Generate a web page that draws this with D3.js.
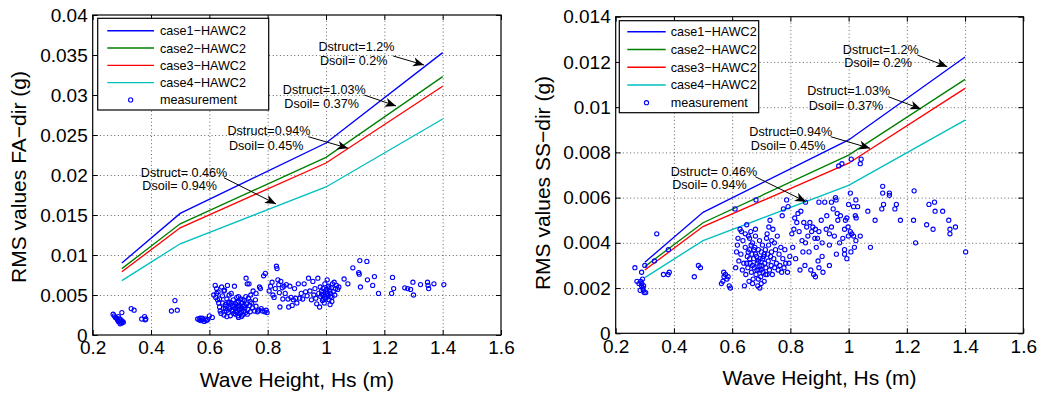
<!DOCTYPE html>
<html>
<head>
<meta charset="utf-8">
<script src="https://cdn.jsdelivr.net/npm/d3@7"></script>
<style>
  html, body { margin: 0; padding: 0; background: #fff; }
  svg { display: block; font-family: "Liberation Sans", Arial, Helvetica, sans-serif; }
</style>
</head>
<body>
<svg id="chart" width="1038" height="396"></svg>
<script>
// Simulated RMS acceleration per wave height, four damping cases
const hs = [0.3, 0.5, 1.0, 1.4];

const faCase1 = [0.0090, 0.0152, 0.0240, 0.0353];
const faCase2 = [0.0083, 0.0139, 0.0222, 0.0323];
const faCase3 = [0.0079, 0.0134, 0.0215, 0.0311];
const faCase4 = [0.0068, 0.0114, 0.0185, 0.0270];

const ssCase1 = [0.00314, 0.00535, 0.00855, 0.01222];
const ssCase2 = [0.00295, 0.00489, 0.00788, 0.01123];
const ssCase3 = [0.00280, 0.00472, 0.00752, 0.01083];
const ssCase4 = [0.00246, 0.00410, 0.00654, 0.00943];

const caseNames = ["case1\u2212HAWC2", "case2\u2212HAWC2", "case3\u2212HAWC2", "case4\u2212HAWC2"];
const caseColors = ["#0000ff", "#008000", "#ff0000", "#00bfbf"];
const measurementName = "measurement";

// Measured RMS values, fore-aft direction [Hs, RMS]
const faMeasured = [
  [0.270,0.0026],[0.274,0.0024],[0.278,0.0022],[0.282,0.0021],[0.285,0.0019],[0.288,0.0023],[0.290,0.0018],[0.292,0.0020],
  [0.295,0.0016],[0.297,0.0019],[0.300,0.0015],[0.302,0.0017],[0.305,0.0016],[0.300,0.0028],[0.288,0.0017],[0.294,0.0014],
  [0.332,0.0033],[0.342,0.0031],[0.368,0.0020],[0.378,0.0023],[0.380,0.0019],[0.382,0.0020],
  [0.470,0.0030],[0.482,0.0043],[0.490,0.0031],
  [0.560,0.0020],[0.565,0.0019],[0.570,0.0018],[0.575,0.0021],[0.578,0.0019],[0.582,0.0017],[0.586,0.0020],[0.590,0.0018],
  [0.594,0.0019],[0.600,0.0024],[0.610,0.0022],[0.568,0.0021],
  [0.615,0.0050],[0.620,0.0062],[0.622,0.0047],[0.625,0.0058],[0.628,0.0044],[0.630,0.0054],[0.632,0.0040],[0.635,0.0035],
  [0.637,0.0030],[0.640,0.0027],[0.642,0.0060],[0.645,0.0049],[0.648,0.0033],[0.650,0.0025],[0.652,0.0056],[0.655,0.0038],
  [0.658,0.0030],[0.660,0.0045],[0.662,0.0062],[0.665,0.0028],[0.667,0.0035],[0.670,0.0041],[0.672,0.0024],[0.675,0.0052],
  [0.677,0.0031],[0.680,0.0037],[0.682,0.0044],[0.684,0.0027],[0.686,0.0061],[0.688,0.0033],[0.690,0.0039],[0.692,0.0029],
  [0.694,0.0047],[0.696,0.0035],[0.698,0.0024],[0.700,0.0042],[0.702,0.0031],[0.704,0.0037],[0.706,0.0027],[0.708,0.0045],
  [0.710,0.0033],[0.712,0.0040],[0.714,0.0025],[0.716,0.0036],[0.718,0.0030],[0.720,0.0043],[0.722,0.0034],[0.724,0.0028],
  [0.726,0.0071],[0.728,0.0039],[0.730,0.0064],[0.732,0.0032],[0.734,0.0046],[0.736,0.0064],[0.738,0.0037],[0.740,0.0029],
  [0.742,0.0050],[0.745,0.0040],[0.748,0.0034],[0.750,0.0055],[0.755,0.0030],[0.758,0.0044],[0.760,0.0036],[0.765,0.0029],
  [0.770,0.0031],[0.772,0.0060],[0.775,0.0058],[0.778,0.0033],[0.782,0.0030],[0.786,0.0074],[0.790,0.0029],[0.792,0.0077],
  [0.795,0.0031],[0.798,0.0028],
  [0.660,0.0036],[0.670,0.0033],[0.680,0.0030],[0.690,0.0034],[0.700,0.0036],[0.710,0.0029],[0.720,0.0037],[0.675,0.0040],
  [0.695,0.0041],[0.705,0.0032],[0.715,0.0044],[0.685,0.0036],[0.665,0.0041],[0.655,0.0033],[0.645,0.0040],[0.635,0.0045],
  [0.625,0.0052],[0.650,0.0055],[0.668,0.0050],[0.700,0.0048],[0.725,0.0048],[0.740,0.0042],[0.760,0.0052],[0.690,0.0026],
  [0.710,0.0023],[0.730,0.0026],[0.660,0.0023],[0.700,0.0022],
  [0.805,0.0055],[0.810,0.0061],[0.815,0.0066],[0.818,0.0050],[0.822,0.0047],[0.826,0.0058],[0.830,0.0086],[0.832,0.0083],
  [0.835,0.0069],[0.838,0.0063],[0.840,0.0053],[0.842,0.0035],[0.845,0.0067],[0.850,0.0059],[0.852,0.0045],[0.856,0.0061],
  [0.860,0.0052],[0.864,0.0063],[0.870,0.0045],[0.872,0.0035],[0.876,0.0061],[0.880,0.0047],[0.884,0.0037],[0.888,0.0044],
  [0.892,0.0058],[0.896,0.0046],[0.900,0.0040],[0.905,0.0064],[0.910,0.0046],[0.915,0.0052],[0.920,0.0045],[0.925,0.0064],
  [0.930,0.0054],[0.935,0.0049],[0.940,0.0071],[0.945,0.0055],[0.950,0.0044],[0.955,0.0067],[0.958,0.0050],[0.962,0.0058],
  [0.965,0.0046],[0.968,0.0039],[0.972,0.0071],[0.975,0.0052],[0.978,0.0035],
  [0.980,0.0060],[0.982,0.0048],[0.985,0.0055],[0.988,0.0043],[0.990,0.0058],[0.992,0.0050],[0.994,0.0040],[0.996,0.0064],
  [0.998,0.0053],[1.000,0.0046],[1.002,0.0057],[1.004,0.0069],[1.006,0.0049],[1.008,0.0061],[1.010,0.0044],[1.012,0.0055],
  [1.014,0.0038],[1.016,0.0052],[1.018,0.0059],[1.020,0.0047],[1.022,0.0064],[1.025,0.0054],[1.028,0.0066],[1.030,0.0050],
  [1.033,0.0058],[1.036,0.0062],[1.040,0.0057],[1.044,0.0060],[0.995,0.0047],[1.005,0.0052],[1.015,0.0048],[0.985,0.0051],
  [1.000,0.0055],[1.010,0.0059],[0.990,0.0045],[1.020,0.0042],
  [1.062,0.0070],[1.075,0.0064],[1.092,0.0084],[1.112,0.0078],[1.114,0.0076],[1.116,0.0093],[1.118,0.0060],[1.140,0.0092],
  [1.142,0.0069],[1.160,0.0062],[1.166,0.0073],[1.180,0.0052],[1.225,0.0052],[1.228,0.0072],[1.232,0.0058],[1.270,0.0059],
  [1.280,0.0058],[1.290,0.0057],[1.298,0.0066],[1.300,0.0050],[1.324,0.0063],[1.348,0.0066],[1.350,0.0062],[1.352,0.0058],
  [1.370,0.0064],[1.404,0.0063]
];

// Measured RMS values, side-side direction [Hs, RMS]
const ssMeasured = [
  [0.266,0.0029],[0.273,0.0023],[0.280,0.0022],[0.286,0.0023],[0.289,0.0021],[0.293,0.0020],[0.295,0.0019],[0.298,0.0018],
  [0.303,0.0018],[0.290,0.0022],[0.289,0.0027],[0.300,0.0030],[0.284,0.0019],[0.292,0.0024],[0.296,0.0021],
  [0.333,0.0032],[0.341,0.0044],[0.381,0.0037],[0.364,0.0026],[0.380,0.0026],[0.384,0.0027],
  [0.470,0.0025],[0.484,0.0030],[0.491,0.0029],
  [0.563,0.0022],[0.568,0.0023],[0.572,0.0025],[0.577,0.0026],[0.582,0.0024],[0.571,0.0027],[0.590,0.0021],[0.594,0.0020],
  [0.586,0.0025],
  [0.610,0.0055],[0.612,0.0029],[0.682,0.0059],
  [0.615,0.0036],[0.618,0.0039],[0.620,0.0042],[0.623,0.0032],[0.627,0.0046],[0.630,0.0035],[0.632,0.0045],[0.635,0.0028],
  [0.637,0.0041],[0.640,0.0031],[0.642,0.0021],[0.645,0.0038],[0.647,0.0026],[0.650,0.0048],[0.652,0.0034],[0.654,0.0029],
  [0.656,0.0043],[0.658,0.0023],[0.660,0.0037],[0.662,0.0031],[0.664,0.0045],[0.666,0.0027],[0.668,0.0035],[0.670,0.0040],
  [0.672,0.0024],[0.674,0.0033],[0.676,0.0029],[0.678,0.0038],[0.680,0.0043],[0.682,0.0026],[0.684,0.0034],[0.686,0.0031],
  [0.688,0.0021],[0.690,0.0037],[0.692,0.0028],[0.694,0.0041],[0.696,0.0033],[0.698,0.0025],[0.700,0.0036],[0.702,0.0030],
  [0.704,0.0039],[0.706,0.0027],[0.708,0.0034],[0.710,0.0023],[0.712,0.0031],[0.714,0.0037],[0.716,0.0029],[0.718,0.0042],
  [0.720,0.0026],[0.722,0.0035],[0.724,0.0032],[0.726,0.0047],[0.728,0.0028],[0.730,0.0050],[0.732,0.0034],[0.734,0.0030],
  [0.736,0.0041],[0.738,0.0026],[0.740,0.0046],[0.743,0.0033],[0.746,0.0029],[0.749,0.0037],[0.752,0.0031],[0.755,0.0043],
  [0.758,0.0028],[0.761,0.0035],[0.764,0.0030],[0.767,0.0038],[0.770,0.0027],[0.772,0.0052],[0.774,0.0033],[0.776,0.0055],
  [0.778,0.0029],[0.781,0.0037],[0.784,0.0031],[0.787,0.0059],[0.790,0.0027],[0.792,0.0056],[0.795,0.0031],[0.798,0.0034],
  [0.660,0.0033],[0.670,0.0030],[0.680,0.0035],[0.690,0.0032],[0.700,0.0028],[0.710,0.0035],[0.675,0.0037],[0.695,0.0030],
  [0.685,0.0028],[0.665,0.0039],[0.705,0.0033],[0.655,0.0036],[0.645,0.0044],[0.715,0.0026],[0.725,0.0039],[0.690,0.0024],
  [0.700,0.0022],[0.680,0.0046],[0.660,0.0042],[0.720,0.0044],[0.650,0.0031],[0.735,0.0036],[0.745,0.0040],[0.670,0.0022],
  [0.695,0.0020],
  [0.805,0.0044],[0.808,0.0038],[0.812,0.0046],[0.815,0.0051],[0.818,0.0033],[0.822,0.0049],[0.826,0.0053],[0.830,0.0045],
  [0.833,0.0028],[0.836,0.0054],[0.840,0.0041],[0.843,0.0036],[0.846,0.0049],[0.850,0.0030],[0.852,0.0058],[0.852,0.0040],
  [0.856,0.0047],[0.860,0.0043],[0.864,0.0036],[0.867,0.0049],[0.870,0.0028],[0.873,0.0045],[0.877,0.0047],[0.880,0.0026],
  [0.884,0.0042],[0.886,0.0046],[0.886,0.0025],[0.889,0.0038],[0.893,0.0042],[0.895,0.0032],[0.898,0.0058],[0.898,0.0045],
  [0.898,0.0029],[0.906,0.0050],[0.909,0.0040],[0.909,0.0034],[0.912,0.0027],[0.918,0.0058],[0.923,0.0046],[0.925,0.0052],
  [0.934,0.0044],[0.934,0.0039],[0.934,0.0030],[0.941,0.0058],[0.941,0.0047],[0.947,0.0055],[0.951,0.0043],[0.955,0.0060],
  [0.957,0.0059],[0.958,0.0035],
  [0.961,0.0053],[0.963,0.0050],[0.966,0.0074],[0.969,0.0040],[0.972,0.0052],[0.977,0.0075],[0.980,0.0042],[0.986,0.0046],
  [0.986,0.0037],[0.986,0.0035],[0.989,0.0050],[0.994,0.0051],[0.994,0.0033],[0.998,0.0047],[0.999,0.0043],[1.000,0.0057],
  [1.006,0.0062],[1.006,0.0045],[1.008,0.0036],[1.009,0.0077],[1.011,0.0044],[1.017,0.0056],[1.017,0.0043],[1.020,0.0038],
  [1.023,0.0052],[1.025,0.0059],[1.025,0.0041],[1.026,0.0051],[1.031,0.0056],[1.040,0.0043],[1.040,0.0075],[1.043,0.0077],
  [1.066,0.0054],[1.075,0.0038],[1.091,0.0050],[1.114,0.0055],[1.117,0.0062],[1.117,0.0065],[1.120,0.0057],[1.140,0.0062],
  [1.140,0.0061],[1.159,0.0055],[1.164,0.0057],[1.178,0.0050],[1.223,0.0050],[1.225,0.0063],[1.230,0.0040],[1.268,0.0048],
  [1.276,0.0057],[1.290,0.0046],[1.295,0.0058],[1.297,0.0054],[1.323,0.0054],[1.344,0.0050],[1.348,0.0046],[1.348,0.0044],
  [1.367,0.0047],[1.402,0.0036]
];

// Axis ticks
const xTicks = [0.2, 0.4, 0.6, 0.8, 1.0, 1.2, 1.4, 1.6];
const faTicks = [0, 0.005, 0.01, 0.015, 0.02, 0.025, 0.03, 0.035, 0.04];
const ssTicks = [0, 0.002, 0.004, 0.006, 0.008, 0.01, 0.012, 0.014];

// Damping annotations: label lines, label anchor and arrow (data units)
const noteStruct = ["Dstruct=1.2%", "Dstruct=1.03%", "Dstruct=0.94%", "Dstruct= 0.46%"];
const noteSoil   = ["Dsoil= 0.2%", "Dsoil= 0.37%", "Dsoil= 0.45%", "Dsoil= 0.94%"];
const faNoteAt   = [[0.974, 0.03604, 0.03429], [0.852, 0.03063, 0.02888], [0.662, 0.02554, 0.02375], [0.365, 0.02034, 0.01866]];
const faArrowFrom = [[1.230, 0.03488], [1.131, 0.03000], [0.939, 0.02479], [0.650, 0.01966]];
const faArrowTo   = [[1.336, 0.03375], [1.240, 0.02863], [1.076, 0.02334], [0.8285, 0.01638]];
const ssNoteAt   = [[0.980, 0.012572, 0.011966], [0.858, 0.010728, 0.010096], [0.659, 0.008915, 0.008296], [0.389, 0.007177, 0.006589]];
const ssArrowFrom = [[1.236, 0.012307], [1.136, 0.010463], [0.9385, 0.008694], [0.6795, 0.006925]];
const ssArrowTo   = [[1.339, 0.011789], [1.2486, 0.009919], [1.0735, 0.008181], [0.8536, 0.005819]];

const xLabel = "Wave Height, Hs (m)";

const svg = d3.select("#chart");

// Arrowhead used by the annotations
svg.append("defs").append("marker")
  .attr("id", "head")
  .attr("viewBox", "-12 -6 14 12")
  .attr("refX", 0).attr("refY", 0)
  .attr("markerUnits", "userSpaceOnUse")
  .attr("markerWidth", 14).attr("markerHeight", 12)
  .attr("orient", "auto")
  .append("path")
  .attr("d", "M0,0 L-11,-4.5 L-8,0 L-11,4.5 Z")
  .attr("fill", "#000");

function fmt(v) { return d3.format("~g")(v); }

function drawPanel(p) {
  const x = d3.scaleLinear().domain([0.2, 1.6]).range([p.left, p.right]);
  const y = d3.scaleLinear().domain([0, p.yMax]).range([p.bottom, p.top]);
  const h = p.bottom - p.top, w = p.right - p.left;
  const g = svg.append("g");

  // dotted grid
  const gx = g.append("g").attr("transform", `translate(0,${p.bottom})`)
    .call(d3.axisBottom(x).tickValues(xTicks.slice(1, -1)).tickSize(-h).tickFormat(""));
  const gy = g.append("g").attr("transform", `translate(${p.left},0)`)
    .call(d3.axisLeft(y).tickValues(p.yTicks.slice(1, -1)).tickSize(-w).tickFormat(""));
  [gx, gy].forEach(s => {
    s.select(".domain").remove();
    s.selectAll("line").attr("stroke", "#555").attr("stroke-width", 0.9).attr("stroke-dasharray", "1,2.6");
  });

  // simulated cases
  const line = d3.line().x((d, i) => x(hs[i])).y(d => y(d));
  p.cases.forEach((vals, i) => {
    g.append("path").datum(vals)
      .attr("d", line)
      .attr("fill", "none")
      .attr("stroke", caseColors[i])
      .attr("stroke-width", 1.35);
  });

  // measurements
  g.append("g").selectAll("circle").data(p.measured).join("circle")
    .attr("cx", d => x(d[0])).attr("cy", d => y(d[1]))
    .attr("r", 2.1)
    .attr("fill", "none")
    .attr("stroke", "#0000ff")
    .attr("stroke-width", 1.1);

  // axes with inward ticks on all four sides
  const tick = 5;
  const axB = g.append("g").attr("transform", `translate(0,${p.bottom})`)
    .call(d3.axisBottom(x).tickValues(xTicks).tickSize(-tick).tickPadding(6).tickFormat(fmt));
  const axT = g.append("g").attr("transform", `translate(0,${p.top})`)
    .call(d3.axisTop(x).tickValues(xTicks).tickSize(-tick).tickFormat(""));
  const axL = g.append("g").attr("transform", `translate(${p.left},0)`)
    .call(d3.axisLeft(y).tickValues(p.yTicks).tickSize(-tick).tickPadding(5).tickFormat(fmt));
  const axR = g.append("g").attr("transform", `translate(${p.right},0)`)
    .call(d3.axisRight(y).tickValues(p.yTicks).tickSize(-tick).tickFormat(""));
  [axB, axT, axL, axR].forEach(s => {
    s.select(".domain").remove();
    s.selectAll("line").attr("stroke", "#000").attr("stroke-width", 1);
    s.selectAll("text").attr("font-size", 19).attr("fill", "#000")
      .attr("font-family", "'Liberation Sans', Arial, Helvetica, sans-serif");
  });

  // frame
  g.append("rect")
    .attr("x", p.left).attr("y", p.top).attr("width", w).attr("height", h)
    .attr("fill", "none").attr("stroke", "#000").attr("stroke-width", 1.2);

  // axis titles
  g.append("text")
    .attr("x", (p.left + p.right) / 2).attr("y", p.bottom + 52)
    .attr("text-anchor", "middle").attr("font-size", 21).text(xLabel);
  g.append("text")
    .attr("transform", `translate(${p.yLabelX},${(p.top + p.bottom) / 2 + p.yLabelShift}) rotate(-90)`)
    .attr("text-anchor", "middle").attr("font-size", 21).text(p.yLabel);

  // legend
  const L = p.legend;
  const lg = g.append("g").attr("transform", `translate(${L.x},${L.y})`);
  lg.append("rect").attr("width", L.w).attr("height", L.h)
    .attr("fill", "#fff").attr("stroke", "#000").attr("stroke-width", 1.2);
  const entries = caseNames.concat([measurementName]);
  entries.forEach((name, i) => {
    const ry = L.row0 + i * L.step;
    if (i < caseNames.length) {
      lg.append("line").attr("x1", L.lx0).attr("x2", L.lx1).attr("y1", ry).attr("y2", ry)
        .attr("stroke", caseColors[i]).attr("stroke-width", 1.35);
    } else {
      lg.append("circle").attr("cx", (L.lx0 + L.lx1) / 2).attr("cy", ry).attr("r", 2.1)
        .attr("fill", "none").attr("stroke", "#0000ff").attr("stroke-width", 1.1);
    }
    lg.append("text").attr("x", L.tx).attr("y", ry).attr("dy", "0.36em")
      .attr("font-size", 12.6).attr("fill", "#000").text(name);
  });

  // damping annotations
  p.noteAt.forEach((n, i) => {
    g.append("text").attr("x", x(n[0])).attr("y", y(n[1])).attr("dy", "0.36em")
      .attr("font-size", 12.6).text(noteStruct[i]);
    g.append("text").attr("x", x(n[0]) + 1.5).attr("y", y(n[2])).attr("dy", "0.36em")
      .attr("font-size", 12.6).text(noteSoil[i]);
    const a = p.arrowFrom[i], b = p.arrowTo[i];
    g.append("line")
      .attr("x1", x(a[0])).attr("y1", y(a[1]))
      .attr("x2", x(b[0])).attr("y2", y(b[1]))
      .attr("stroke", "#000").attr("stroke-width", 1)
      .attr("marker-end", "url(#head)");
  });
}

drawPanel({
  left: 92.7, right: 501, top: 15, bottom: 335,
  yMax: 0.04, yTicks: faTicks,
  cases: [faCase1, faCase2, faCase3, faCase4],
  measured: faMeasured,
  yLabel: "RMS values FA\u2212dir (g)", yLabelX: 25.5, yLabelShift: 2,
  legend: { x: 97.7, y: 18.3, w: 171, h: 91.7, row0: 12.4, step: 17.3, lx0: 9.6, lx1: 56.3, tx: 62.3 },
  noteAt: faNoteAt, arrowFrom: faArrowFrom, arrowTo: faArrowTo
});

drawPanel({
  left: 615.7, right: 1023.3, top: 16.7, bottom: 333.3,
  yMax: 0.014, yTicks: ssTicks,
  cases: [ssCase1, ssCase2, ssCase3, ssCase4],
  measured: ssMeasured,
  yLabel: "RMS values SS\u2212dir (g)", yLabelX: 550, yLabelShift: 8,
  legend: { x: 619.3, y: 20.7, w: 139.4, h: 92, row0: 11, step: 17.75, lx0: 8, lx1: 46.4, tx: 51.4 },
  noteAt: ssNoteAt, arrowFrom: ssArrowFrom, arrowTo: ssArrowTo
});
</script>
</body>
</html>
